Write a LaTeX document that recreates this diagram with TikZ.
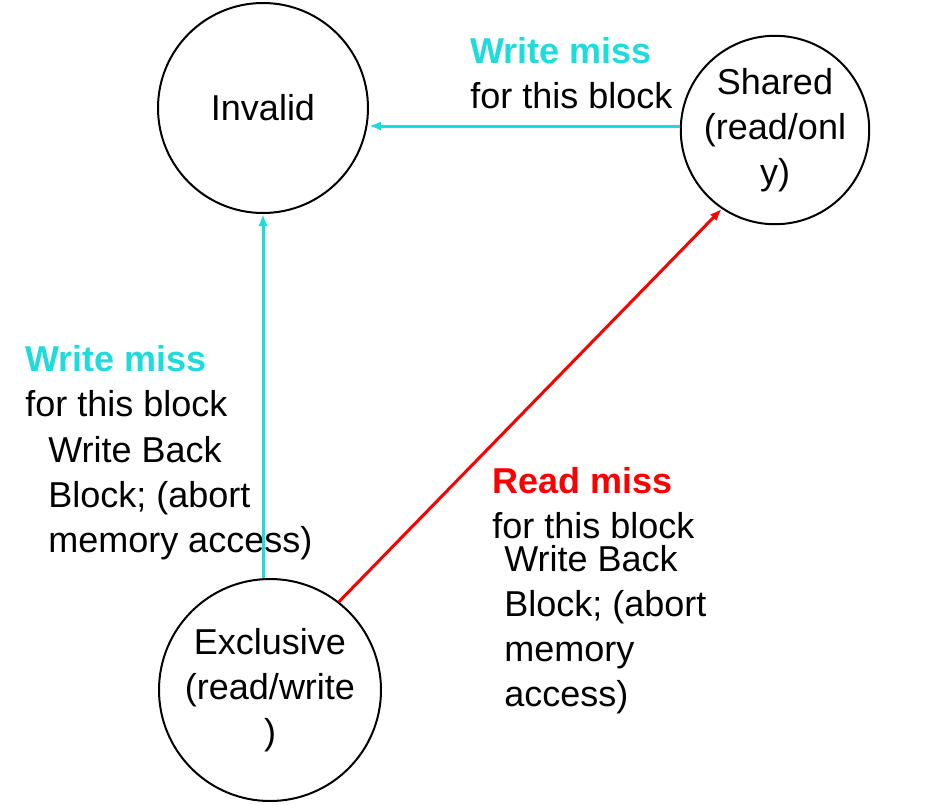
\documentclass[tikz,border=0pt]{standalone}
\usepackage{fontspec}
\setmainfont{Liberation Sans}
\usetikzlibrary{arrows.meta}
\definecolor{missblue}{RGB}{30,220,220}
\definecolor{missred}{RGB}{250,0,0}
\begin{document}
\begin{tikzpicture}[x=0.75pt,y=0.75pt,yscale=-1,xscale=1,
  state/.style={draw,circle,inner sep=0pt,line width=1.5pt,align=center,font=\fontsize{27}{33.75}\selectfont},
  lbl/.style={anchor=west,align=left,inner sep=0pt,font=\fontsize{27}{33.75}\selectfont},
  arr/.style={line width=2.25pt,-{Latex[length=9pt,width=7pt]}}]
\useasboundingbox (0,0) rectangle (925,804);
% States
\node[state,minimum size=210*0.75pt] (inv) at (263,108) {Invalid};
\node[state,minimum size=156*0.75pt] (shr) at (775,130) {Shared\\(read/onl\\y)};
\node[state,minimum size=222*0.75pt] (exc) at (270,690) {Exclusive\\(read/write\\)};
% Labels
\node[lbl] (wm1) at (470,73) {\textcolor{missblue}{\textbf{Write miss}}\\for this block};
\node[lbl] (wm2) at (25,381) {\textcolor{missblue}{\textbf{Write miss}}\\for this block};
\node[lbl] (wb2) at (48,498) {Write Back\\Block; (abort\\memory access)};
\node[lbl] (rm) at (492,503) {\textcolor{missred}{\textbf{Read miss}}\\for this block};
\node[lbl] (wb3) at (504,630) {Write Back\\Block; (abort\\memory\\access)};
% Transitions
\draw[arr,missblue] (shr.west |- 0,126) -- (inv.east |- 0,126);
\draw[arr,missblue] (exc.north -| 263,0) -- (inv.south -| 263,0);
\draw[arr,missred] (exc.52) -- (shr.236);
\end{tikzpicture}
\end{document}
